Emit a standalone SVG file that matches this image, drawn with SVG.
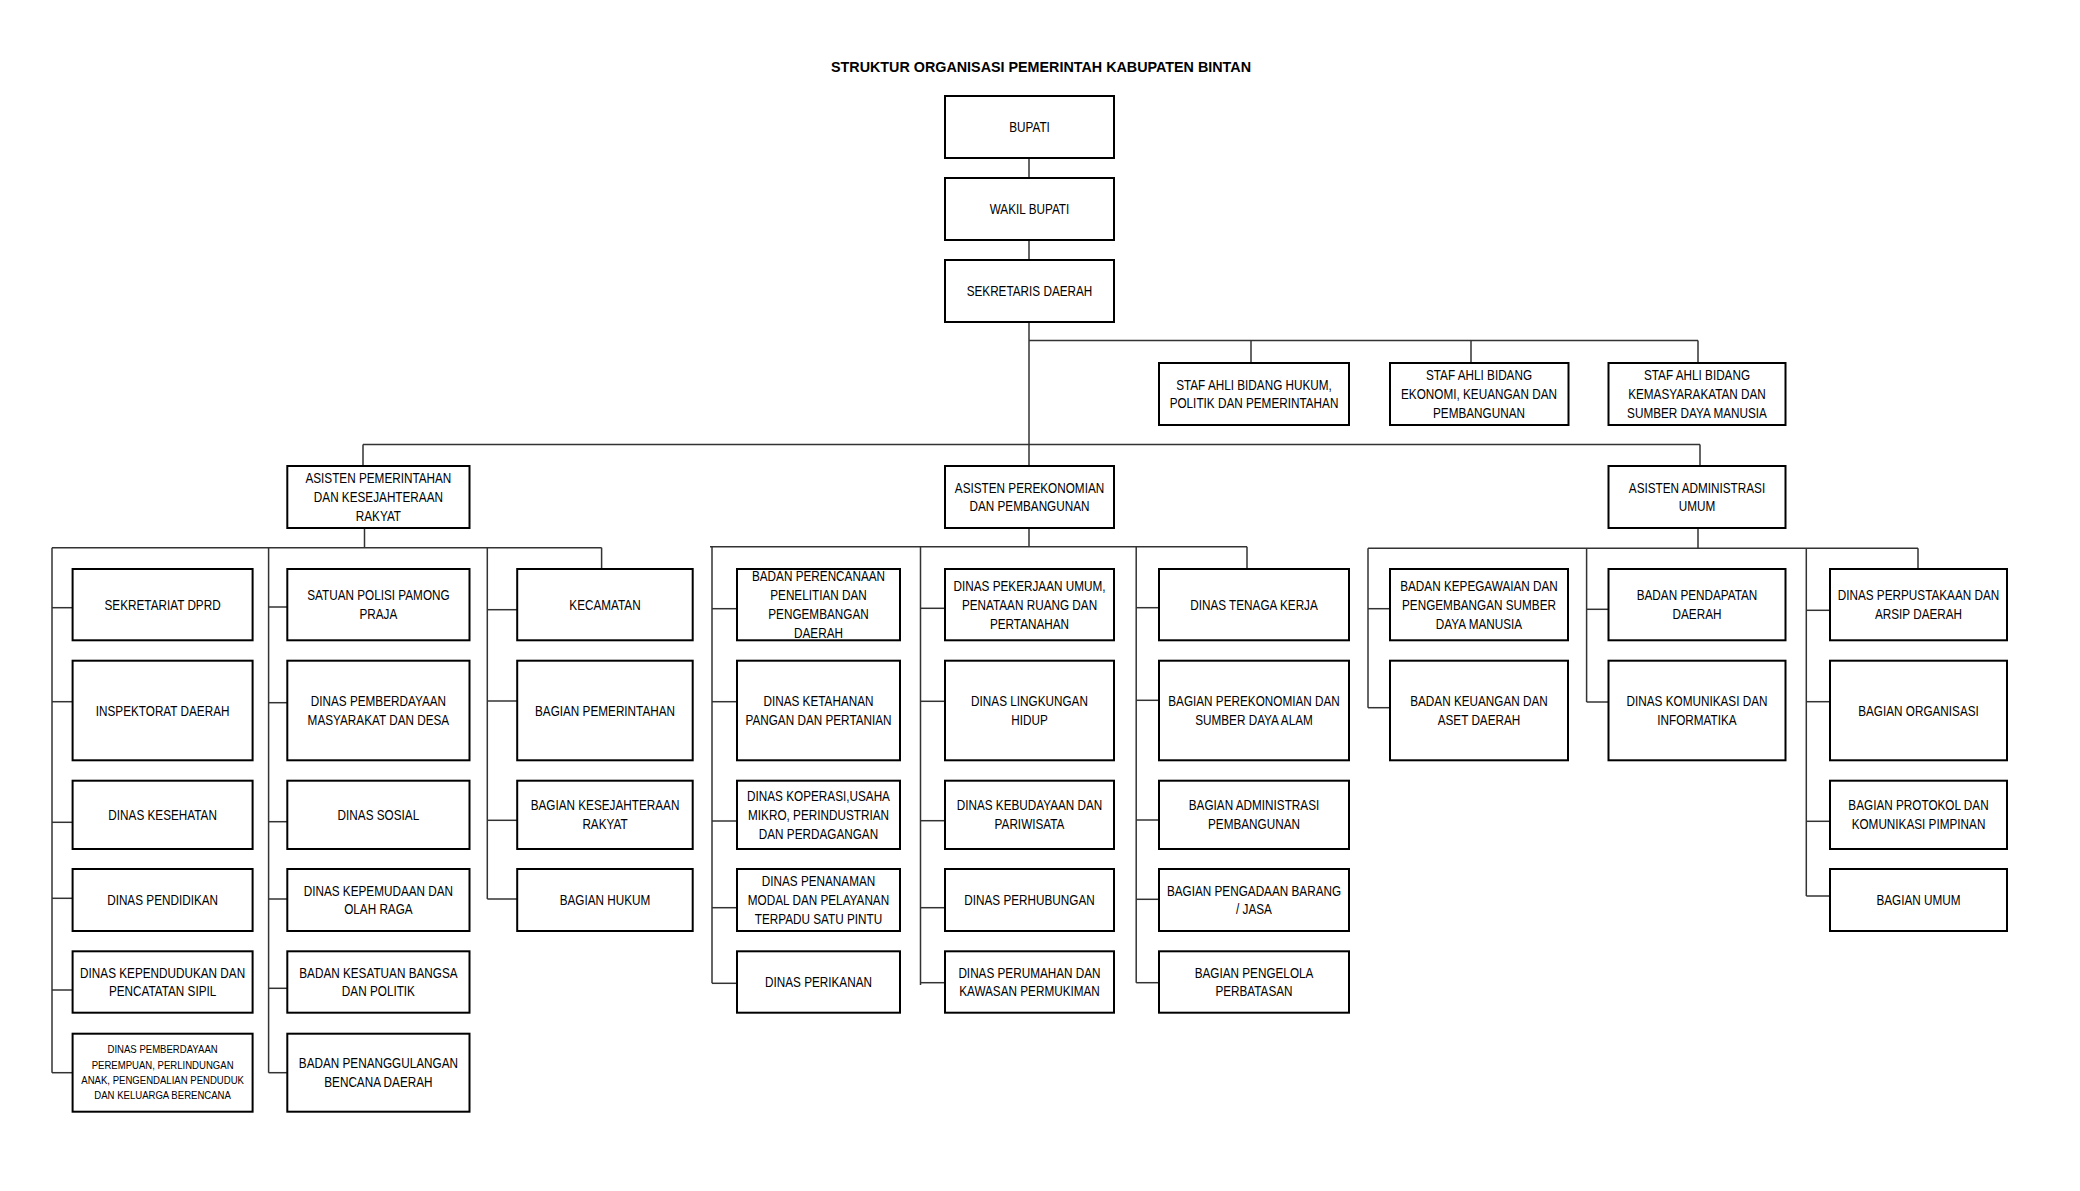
<svg xmlns="http://www.w3.org/2000/svg" width="2080" height="1191" viewBox="0 0 2080 1191">
<style>
.b{fill:#fff;stroke:#000;stroke-width:2}
.t{font-family:"Liberation Sans",Arial,sans-serif;font-size:14px;fill:#000;text-anchor:middle}
.s{font-family:"Liberation Sans",Arial,sans-serif;font-size:10.2px;fill:#000;text-anchor:middle}
.ttl{font-family:"Liberation Sans",Arial,sans-serif;font-size:15.5px;font-weight:bold;fill:#000;text-anchor:middle}
#connectors line{stroke:#333;stroke-width:1.5}
</style>
<rect width="2080" height="1191" fill="#fff"/>
<text class="ttl" x="1041" y="72" textLength="420" lengthAdjust="spacingAndGlyphs">STRUKTUR ORGANISASI PEMERINTAH KABUPATEN BINTAN</text>

<g id="connectors">
<line x1="1029" y1="158" x2="1029" y2="178"/>
<line x1="1029" y1="240" x2="1029" y2="260"/>
<line x1="1029" y1="322" x2="1029" y2="466"/>
<line x1="1029" y1="340.5" x2="1698" y2="340.5"/>
<line x1="1251" y1="340.5" x2="1251" y2="363"/>
<line x1="1471" y1="340.5" x2="1471" y2="363"/>
<line x1="1698" y1="340.5" x2="1698" y2="363"/>
<line x1="363" y1="444.5" x2="1700" y2="444.5"/>
<line x1="363" y1="444.5" x2="363" y2="466"/>
<line x1="1700" y1="444.5" x2="1700" y2="466"/>
<!-- left group -->
<line x1="364.5" y1="528" x2="364.5" y2="547.7"/>
<line x1="52" y1="547.7" x2="601.6" y2="547.7"/>
<line x1="601.6" y1="547.7" x2="601.6" y2="569"/>
<line x1="52" y1="547.7" x2="52" y2="1072.7"/>
<line x1="268.6" y1="547.7" x2="268.6" y2="1072.7"/>
<line x1="487.3" y1="547.7" x2="487.3" y2="899"/>
<line x1="52" y1="607.7" x2="72.6" y2="607.7"/>
<line x1="52" y1="701.7" x2="72.6" y2="701.7"/>
<line x1="52" y1="822.3" x2="72.6" y2="822.3"/>
<line x1="52" y1="898.3" x2="72.6" y2="898.3"/>
<line x1="52" y1="990" x2="72.6" y2="990"/>
<line x1="52" y1="1072.7" x2="72.6" y2="1072.7"/>
<line x1="268.6" y1="607" x2="287.3" y2="607"/>
<line x1="268.6" y1="702.7" x2="287.3" y2="702.7"/>
<line x1="268.6" y1="821.7" x2="287.3" y2="821.7"/>
<line x1="268.6" y1="899" x2="287.3" y2="899"/>
<line x1="268.6" y1="988.3" x2="287.3" y2="988.3"/>
<line x1="268.6" y1="1072.7" x2="287.3" y2="1072.7"/>
<line x1="487.3" y1="609.7" x2="517.2" y2="609.7"/>
<line x1="487.3" y1="701" x2="517.2" y2="701"/>
<line x1="487.3" y1="820.3" x2="517.2" y2="820.3"/>
<line x1="487.3" y1="899" x2="517.2" y2="899"/>
<!-- middle group -->
<line x1="1029" y1="528" x2="1029" y2="546.7"/>
<line x1="710" y1="546.7" x2="1247" y2="546.7"/>
<line x1="1247" y1="546.7" x2="1247" y2="569"/>
<line x1="712" y1="546.7" x2="712" y2="983.3"/>
<line x1="920.5" y1="546.7" x2="920.5" y2="985"/>
<line x1="1136.2" y1="546.7" x2="1136.2" y2="982.7"/>
<line x1="712" y1="608.7" x2="737" y2="608.7"/>
<line x1="712" y1="701.7" x2="737" y2="701.7"/>
<line x1="712" y1="821" x2="737" y2="821"/>
<line x1="712" y1="907.7" x2="737" y2="907.7"/>
<line x1="712" y1="983.3" x2="737" y2="983.3"/>
<line x1="920.5" y1="608.3" x2="945" y2="608.3"/>
<line x1="920.5" y1="701.3" x2="945" y2="701.3"/>
<line x1="920.5" y1="820.7" x2="945" y2="820.7"/>
<line x1="920.5" y1="907.7" x2="945" y2="907.7"/>
<line x1="920.5" y1="982.7" x2="945" y2="982.7"/>
<line x1="1136.2" y1="607.7" x2="1159" y2="607.7"/>
<line x1="1136.2" y1="700.3" x2="1159" y2="700.3"/>
<line x1="1136.2" y1="820" x2="1159" y2="820"/>
<line x1="1136.2" y1="899.3" x2="1159" y2="899.3"/>
<line x1="1136.2" y1="982.7" x2="1159" y2="982.7"/>
<!-- right group -->
<line x1="1698" y1="528" x2="1698" y2="548.3"/>
<line x1="1368" y1="548.3" x2="1918" y2="548.3"/>
<line x1="1918" y1="548.3" x2="1918" y2="569"/>
<line x1="1368" y1="548.3" x2="1368" y2="707.7"/>
<line x1="1586.6" y1="548.3" x2="1586.6" y2="702"/>
<line x1="1806.3" y1="548.3" x2="1806.3" y2="896"/>
<line x1="1368" y1="608.7" x2="1390" y2="608.7"/>
<line x1="1368" y1="707.7" x2="1390" y2="707.7"/>
<line x1="1586.6" y1="609.3" x2="1608.5" y2="609.3"/>
<line x1="1586.6" y1="702" x2="1608.5" y2="702"/>
<line x1="1806.3" y1="610.3" x2="1830" y2="610.3"/>
<line x1="1806.3" y1="701.7" x2="1830" y2="701.7"/>
<line x1="1806.3" y1="821.3" x2="1830" y2="821.3"/>
<line x1="1806.3" y1="896" x2="1830" y2="896"/>
</g>

<g id="bupati"><rect class="b" x="945" y="96" width="169" height="62"/><text class="t" transform="translate(1029.5 127) scale(0.84 1)"><tspan x="0" y="5">BUPATI</tspan></text></g>
<g id="wakil-bupati"><rect class="b" x="945" y="178" width="169" height="62"/><text class="t" transform="translate(1029.5 209) scale(0.84 1)"><tspan x="0" y="5">WAKIL BUPATI</tspan></text></g>
<g id="sekda"><rect class="b" x="945" y="260" width="169" height="62"/><text class="t" transform="translate(1029.5 291) scale(0.84 1)"><tspan x="0" y="5">SEKRETARIS DAERAH</tspan></text></g>

<g id="staf-hukum"><rect class="b" x="1159" y="363" width="190" height="62"/><text class="t" transform="translate(1254 394) scale(0.84 1)"><tspan x="0" y="-4.5">STAF AHLI BIDANG HUKUM,</tspan><tspan x="0" y="14.5">POLITIK DAN PEMERINTAHAN</tspan></text></g>
<g id="staf-ekonomi"><rect class="b" x="1390" y="363" width="178.5" height="62"/><text class="t" transform="translate(1479 394) scale(0.84 1)"><tspan x="0" y="-14">STAF AHLI BIDANG</tspan><tspan x="0" y="5">EKONOMI, KEUANGAN DAN</tspan><tspan x="0" y="24">PEMBANGUNAN</tspan></text></g>
<g id="staf-kemasyarakatan"><rect class="b" x="1608.5" y="363" width="177" height="62"/><text class="t" transform="translate(1697 394) scale(0.84 1)"><tspan x="0" y="-14">STAF AHLI BIDANG</tspan><tspan x="0" y="5">KEMASYARAKATAN DAN</tspan><tspan x="0" y="24">SUMBER DAYA MANUSIA</tspan></text></g>

<g id="asisten-pemerintahan"><rect class="b" x="287.3" y="466" width="182.2" height="62"/><text class="t" transform="translate(378.4 497) scale(0.84 1)"><tspan x="0" y="-14">ASISTEN PEMERINTAHAN</tspan><tspan x="0" y="5">DAN KESEJAHTERAAN</tspan><tspan x="0" y="24">RAKYAT</tspan></text></g>
<g id="asisten-perekonomian"><rect class="b" x="945" y="466" width="169" height="62"/><text class="t" transform="translate(1029.5 497) scale(0.84 1)"><tspan x="0" y="-4.5">ASISTEN PEREKONOMIAN</tspan><tspan x="0" y="14.5">DAN PEMBANGUNAN</tspan></text></g>
<g id="asisten-administrasi"><rect class="b" x="1608.5" y="466" width="177" height="62"/><text class="t" transform="translate(1697 497) scale(0.84 1)"><tspan x="0" y="-4.5">ASISTEN ADMINISTRASI</tspan><tspan x="0" y="14.5">UMUM</tspan></text></g>

<!-- Left column 1 -->
<g id="sekretariat-dprd"><rect class="b" x="72.6" y="569" width="180" height="71.3"/><text class="t" transform="translate(162.6 604.7) scale(0.84 1)"><tspan x="0" y="5">SEKRETARIAT DPRD</tspan></text></g>
<g id="inspektorat"><rect class="b" x="72.6" y="660.7" width="180" height="99.6"/><text class="t" transform="translate(162.6 710.5) scale(0.84 1)"><tspan x="0" y="5">INSPEKTORAT DAERAH</tspan></text></g>
<g id="dinas-kesehatan"><rect class="b" x="72.6" y="780.7" width="180" height="68.3"/><text class="t" transform="translate(162.6 814.9) scale(0.84 1)"><tspan x="0" y="5">DINAS KESEHATAN</tspan></text></g>
<g id="dinas-pendidikan"><rect class="b" x="72.6" y="869" width="180" height="62"/><text class="t" transform="translate(162.6 900) scale(0.84 1)"><tspan x="0" y="5">DINAS PENDIDIKAN</tspan></text></g>
<g id="dinas-kependudukan"><rect class="b" x="72.6" y="951.3" width="180" height="61.4"/><text class="t" transform="translate(162.6 982) scale(0.84 1)"><tspan x="0" y="-4.5">DINAS KEPENDUDUKAN DAN</tspan><tspan x="0" y="14.5">PENCATATAN SIPIL</tspan></text></g>
<g id="dinas-pemberdayaan-perempuan"><rect class="b" x="72.6" y="1033.7" width="180" height="78"/><text class="s" transform="translate(162.6 1072.7) scale(0.94 1)"><tspan x="0" y="-19.3">DINAS PEMBERDAYAAN</tspan><tspan x="0" y="-4">PEREMPUAN, PERLINDUNGAN</tspan><tspan x="0" y="11.3">ANAK, PENGENDALIAN PENDUDUK</tspan><tspan x="0" y="26.6">DAN KELUARGA BERENCANA</tspan></text></g>

<!-- Left column 2 -->
<g id="satpol-pp"><rect class="b" x="287.3" y="569" width="182.2" height="71.3"/><text class="t" transform="translate(378.4 604.7) scale(0.84 1)"><tspan x="0" y="-4.5">SATUAN POLISI PAMONG</tspan><tspan x="0" y="14.5">PRAJA</tspan></text></g>
<g id="dinas-pmd"><rect class="b" x="287.3" y="660.7" width="182.2" height="99.6"/><text class="t" transform="translate(378.4 710.5) scale(0.84 1)"><tspan x="0" y="-4.5">DINAS PEMBERDAYAAN</tspan><tspan x="0" y="14.5">MASYARAKAT DAN DESA</tspan></text></g>
<g id="dinas-sosial"><rect class="b" x="287.3" y="780.7" width="182.2" height="68.3"/><text class="t" transform="translate(378.4 814.9) scale(0.84 1)"><tspan x="0" y="5">DINAS SOSIAL</tspan></text></g>
<g id="dinas-kepemudaan"><rect class="b" x="287.3" y="869" width="182.2" height="62"/><text class="t" transform="translate(378.4 900) scale(0.84 1)"><tspan x="0" y="-4.5">DINAS KEPEMUDAAN DAN</tspan><tspan x="0" y="14.5">OLAH RAGA</tspan></text></g>
<g id="badan-kesbangpol"><rect class="b" x="287.3" y="951.3" width="182.2" height="61.4"/><text class="t" transform="translate(378.4 982) scale(0.84 1)"><tspan x="0" y="-4.5">BADAN KESATUAN BANGSA</tspan><tspan x="0" y="14.5">DAN POLITIK</tspan></text></g>
<g id="bpbd"><rect class="b" x="287.3" y="1033.7" width="182.2" height="78"/><text class="t" transform="translate(378.4 1072.7) scale(0.84 1)"><tspan x="0" y="-4.5">BADAN PENANGGULANGAN</tspan><tspan x="0" y="14.5">BENCANA DAERAH</tspan></text></g>

<!-- Left column 3 -->
<g id="kecamatan"><rect class="b" x="517.2" y="569" width="175.5" height="71.3"/><text class="t" transform="translate(605 604.7) scale(0.84 1)"><tspan x="0" y="5">KECAMATAN</tspan></text></g>
<g id="bagian-pemerintahan"><rect class="b" x="517.2" y="660.7" width="175.5" height="99.6"/><text class="t" transform="translate(605 710.5) scale(0.84 1)"><tspan x="0" y="5">BAGIAN PEMERINTAHAN</tspan></text></g>
<g id="bagian-kesra"><rect class="b" x="517.2" y="780.7" width="175.5" height="68.3"/><text class="t" transform="translate(605 814.9) scale(0.84 1)"><tspan x="0" y="-4.5">BAGIAN KESEJAHTERAAN</tspan><tspan x="0" y="14.5">RAKYAT</tspan></text></g>
<g id="bagian-hukum"><rect class="b" x="517.2" y="869" width="175.5" height="62"/><text class="t" transform="translate(605 900) scale(0.84 1)"><tspan x="0" y="5">BAGIAN HUKUM</tspan></text></g>

<!-- Middle column 1 -->
<g id="bappeda"><rect class="b" x="737" y="569" width="163" height="71.3"/><text class="t" transform="translate(818.5 604.7) scale(0.84 1)"><tspan x="0" y="-23.5">BADAN PERENCANAAN</tspan><tspan x="0" y="-4.5">PENELITIAN DAN</tspan><tspan x="0" y="14.5">PENGEMBANGAN</tspan><tspan x="0" y="33.5">DAERAH</tspan></text></g>
<g id="dinas-ketahanan-pangan"><rect class="b" x="737" y="660.7" width="163" height="99.6"/><text class="t" transform="translate(818.5 710.5) scale(0.84 1)"><tspan x="0" y="-4.5">DINAS KETAHANAN</tspan><tspan x="0" y="14.5">PANGAN DAN PERTANIAN</tspan></text></g>
<g id="dinas-koperasi"><rect class="b" x="737" y="780.7" width="163" height="68.3"/><text class="t" transform="translate(818.5 814.9) scale(0.84 1)"><tspan x="0" y="-14">DINAS KOPERASI,USAHA</tspan><tspan x="0" y="5">MIKRO, PERINDUSTRIAN</tspan><tspan x="0" y="24">DAN PERDAGANGAN</tspan></text></g>
<g id="dinas-penanaman-modal"><rect class="b" x="737" y="869" width="163" height="62"/><text class="t" transform="translate(818.5 900) scale(0.84 1)"><tspan x="0" y="-14">DINAS PENANAMAN</tspan><tspan x="0" y="5">MODAL DAN PELAYANAN</tspan><tspan x="0" y="24">TERPADU SATU PINTU</tspan></text></g>
<g id="dinas-perikanan"><rect class="b" x="737" y="951.3" width="163" height="61.4"/><text class="t" transform="translate(818.5 982) scale(0.84 1)"><tspan x="0" y="5">DINAS PERIKANAN</tspan></text></g>

<!-- Middle column 2 -->
<g id="dinas-pu"><rect class="b" x="945" y="569" width="169" height="71.3"/><text class="t" transform="translate(1029.5 604.7) scale(0.84 1)"><tspan x="0" y="-14">DINAS PEKERJAAN UMUM,</tspan><tspan x="0" y="5">PENATAAN RUANG DAN</tspan><tspan x="0" y="24">PERTANAHAN</tspan></text></g>
<g id="dinas-lh"><rect class="b" x="945" y="660.7" width="169" height="99.6"/><text class="t" transform="translate(1029.5 710.5) scale(0.84 1)"><tspan x="0" y="-4.5">DINAS LINGKUNGAN</tspan><tspan x="0" y="14.5">HIDUP</tspan></text></g>
<g id="dinas-kebudayaan"><rect class="b" x="945" y="780.7" width="169" height="68.3"/><text class="t" transform="translate(1029.5 814.9) scale(0.84 1)"><tspan x="0" y="-4.5">DINAS KEBUDAYAAN DAN</tspan><tspan x="0" y="14.5">PARIWISATA</tspan></text></g>
<g id="dinas-perhubungan"><rect class="b" x="945" y="869" width="169" height="62"/><text class="t" transform="translate(1029.5 900) scale(0.84 1)"><tspan x="0" y="5">DINAS PERHUBUNGAN</tspan></text></g>
<g id="dinas-perumahan"><rect class="b" x="945" y="951.3" width="169" height="61.4"/><text class="t" transform="translate(1029.5 982) scale(0.84 1)"><tspan x="0" y="-4.5">DINAS PERUMAHAN DAN</tspan><tspan x="0" y="14.5">KAWASAN PERMUKIMAN</tspan></text></g>

<!-- Middle column 3 -->
<g id="dinas-tenaga-kerja"><rect class="b" x="1159" y="569" width="190" height="71.3"/><text class="t" transform="translate(1254 604.7) scale(0.84 1)"><tspan x="0" y="5">DINAS TENAGA KERJA</tspan></text></g>
<g id="bagian-perekonomian"><rect class="b" x="1159" y="660.7" width="190" height="99.6"/><text class="t" transform="translate(1254 710.5) scale(0.84 1)"><tspan x="0" y="-4.5">BAGIAN PEREKONOMIAN DAN</tspan><tspan x="0" y="14.5">SUMBER DAYA ALAM</tspan></text></g>
<g id="bagian-adm-pembangunan"><rect class="b" x="1159" y="780.7" width="190" height="68.3"/><text class="t" transform="translate(1254 814.9) scale(0.84 1)"><tspan x="0" y="-4.5">BAGIAN ADMINISTRASI</tspan><tspan x="0" y="14.5">PEMBANGUNAN</tspan></text></g>
<g id="bagian-pengadaan"><rect class="b" x="1159" y="869" width="190" height="62"/><text class="t" transform="translate(1254 900) scale(0.84 1)"><tspan x="0" y="-4.5">BAGIAN PENGADAAN BARANG</tspan><tspan x="0" y="14.5">/ JASA</tspan></text></g>
<g id="bagian-perbatasan"><rect class="b" x="1159" y="951.3" width="190" height="61.4"/><text class="t" transform="translate(1254 982) scale(0.84 1)"><tspan x="0" y="-4.5">BAGIAN PENGELOLA</tspan><tspan x="0" y="14.5">PERBATASAN</tspan></text></g>

<!-- Right column 1 -->
<g id="bkpsdm"><rect class="b" x="1390" y="569" width="178" height="71.3"/><text class="t" transform="translate(1479 604.7) scale(0.84 1)"><tspan x="0" y="-14">BADAN KEPEGAWAIAN DAN</tspan><tspan x="0" y="5">PENGEMBANGAN SUMBER</tspan><tspan x="0" y="24">DAYA MANUSIA</tspan></text></g>
<g id="bkad"><rect class="b" x="1390" y="660.7" width="178" height="99.6"/><text class="t" transform="translate(1479 710.5) scale(0.84 1)"><tspan x="0" y="-4.5">BADAN KEUANGAN DAN</tspan><tspan x="0" y="14.5">ASET DAERAH</tspan></text></g>

<!-- Right column 2 -->
<g id="bapenda"><rect class="b" x="1608.5" y="569" width="177" height="71.3"/><text class="t" transform="translate(1697 604.7) scale(0.84 1)"><tspan x="0" y="-4.5">BADAN PENDAPATAN</tspan><tspan x="0" y="14.5">DAERAH</tspan></text></g>
<g id="diskominfo"><rect class="b" x="1608.5" y="660.7" width="177" height="99.6"/><text class="t" transform="translate(1697 710.5) scale(0.84 1)"><tspan x="0" y="-4.5">DINAS KOMUNIKASI DAN</tspan><tspan x="0" y="14.5">INFORMATIKA</tspan></text></g>

<!-- Right column 3 -->
<g id="dinas-perpustakaan"><rect class="b" x="1830" y="569" width="177" height="71.3"/><text class="t" transform="translate(1918.5 604.7) scale(0.84 1)"><tspan x="0" y="-4.5">DINAS PERPUSTAKAAN DAN</tspan><tspan x="0" y="14.5">ARSIP DAERAH</tspan></text></g>
<g id="bagian-organisasi"><rect class="b" x="1830" y="660.7" width="177" height="99.6"/><text class="t" transform="translate(1918.5 710.5) scale(0.84 1)"><tspan x="0" y="5">BAGIAN ORGANISASI</tspan></text></g>
<g id="bagian-protokol"><rect class="b" x="1830" y="780.7" width="177" height="68.3"/><text class="t" transform="translate(1918.5 814.9) scale(0.84 1)"><tspan x="0" y="-4.5">BAGIAN PROTOKOL DAN</tspan><tspan x="0" y="14.5">KOMUNIKASI PIMPINAN</tspan></text></g>
<g id="bagian-umum"><rect class="b" x="1830" y="869" width="177" height="62"/><text class="t" transform="translate(1918.5 900) scale(0.84 1)"><tspan x="0" y="5">BAGIAN UMUM</tspan></text></g>
</svg>
